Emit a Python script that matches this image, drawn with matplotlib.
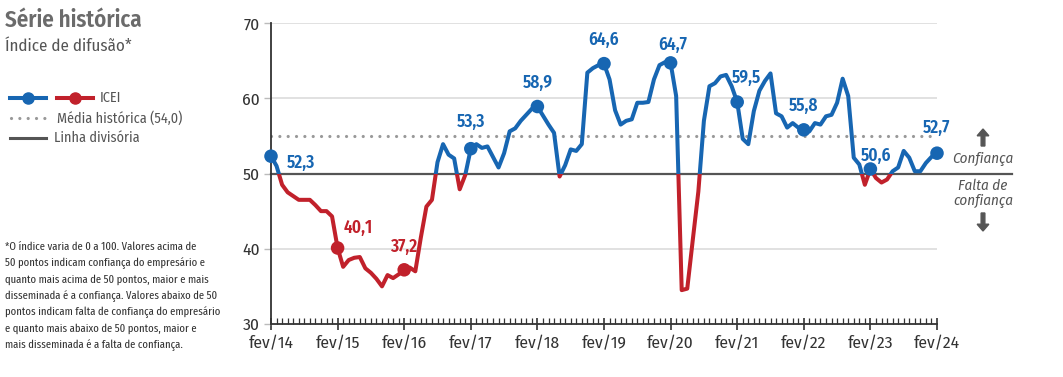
import numpy as np
import matplotlib
matplotlib.use("Agg")
import matplotlib.pyplot as plt
from matplotlib.patches import Rectangle, FancyArrow
from matplotlib.lines import Line2D
from matplotlib.ticker import MultipleLocator

plt.rcParams["font.family"] = ["Fira Sans Condensed", "Roboto Condensed",
                               "Liberation Sans Narrow", "DejaVu Sans"]

# --- Dados: ICEI mensal, fev/2014 a fev/2024 ---
icei = [
    52.3, 51.0, 48.5, 47.5, 47.0, 46.5, 46.5, 46.5, 45.8, 45.0, 45.0, 44.3,   # 2014
    40.1, 37.6, 38.5, 38.8, 38.9, 37.4, 36.8, 36.0, 35.0, 36.5, 36.1, 36.6,   # 2015
    37.2, 37.5, 37.0, 41.5, 45.6, 46.5, 51.5, 53.9, 52.5, 52.0, 47.9, 49.8,   # 2016
    53.3, 53.9, 53.4, 53.6, 52.2, 50.8, 52.7, 55.6, 56.0, 57.0, 57.8, 58.6,   # 2017
    58.9, 57.7, 56.5, 55.4, 49.6, 51.1, 53.2, 53.0, 53.9, 63.4, 64.0, 64.4,   # 2018
    64.6, 62.5, 58.4, 56.5, 57.0, 57.2, 59.4, 59.4, 59.5, 62.5, 64.4, 64.8,   # 2019
    64.7, 60.3, 34.5, 34.7, 41.2, 47.6, 57.0, 61.6, 62.0, 62.9, 63.1, 61.6,   # 2020
    59.5, 54.6, 53.9, 58.3, 61.0, 62.3, 63.3, 58.0, 57.6, 56.1, 56.7, 56.1,   # 2021
    55.8, 55.6, 56.7, 56.5, 57.6, 57.8, 59.4, 62.6, 60.3, 52.1, 51.2, 48.5,   # 2022
    50.6, 49.4, 48.8, 49.2, 50.3, 50.8, 53.0, 52.1, 50.3, 50.3, 51.4, 52.2,   # 2023
    52.7,                                                                     # 2024
]
x_labels = ["fev/14", "fev/15", "fev/16", "fev/17", "fev/18", "fev/19",
            "fev/20", "fev/21", "fev/22", "fev/23", "fev/24"]
media_historica = 55.0
linha_divisoria = 50.0

footnote = [
    "*O índice varia de 0 a 100. Valores acima de",
    "50 pontos indicam confiança do empresário e",
    "quanto mais acima de 50 pontos, maior e mais",
    "disseminada é a confiança. Valores abaixo de 50",
    "pontos indicam falta de confiança do empresário",
    "e quanto mais abaixo de 50 pontos, maior e",
    "mais disseminada é a falta de confiança.",
]

# deslocamento dos rótulos (px) em relação ao marcador de cada fevereiro
label_offsets = [(16, -7, "left"), (6, 20, "left"), (0, 23, "center"),
                 (0, 27, "center"), (0, 24, "center"), (0, 24, "center"),
                 (2, 18, "center"), (9, 24, "center"), (0, 24, "center"),
                 (6, 13, "center"), (0, 25, "center")]

BLUE = "#1766b2"
RED = "#c1212b"
DARK = "#555555"
GRID = "#dcdcdc"
W, H = 1063, 377


def fx(px):
    return px / W


def fy(py):
    return 1 - py / H


months = np.arange(len(icei))
values = np.array(icei)

fig = plt.figure(figsize=(W / 100, H / 100), dpi=100)
ax = fig.add_axes([fx(271), fy(324), fx(937) - fx(271), fy(23) - fy(324)])
ax.set_xlim(0, 120)
ax.set_ylim(30, 70)

# grades claras
for v in (40, 60, 70):
    ax.axhline(v, color=GRID, lw=1.2, zorder=0)
ax.axhline(media_historica, color="#999999", lw=2.3,
           linestyle=(0, (0.01, 2.6)), dash_capstyle="round", zorder=1)
ax.plot([0, 1.113], [linha_divisoria, linha_divisoria], transform=ax.get_yaxis_transform(),
        color=DARK, lw=1.6, clip_on=False, zorder=2)

# série: azul acima de 50, vermelho abaixo (recorte)
above = Rectangle((-5, linha_divisoria), 130, 100, transform=ax.transData)
below = Rectangle((-5, 0), 130, linha_divisoria, transform=ax.transData)
l1, = ax.plot(months, values, color=BLUE, lw=2.9, solid_joinstyle="round", zorder=3)
l1.set_clip_path(above)
l2, = ax.plot(months, values, color=RED, lw=2.9, solid_joinstyle="round", zorder=3)
l2.set_clip_path(below)

# marcadores de fevereiro
feb = months[::12]
feb_vals = values[::12]
feb_cols = [BLUE if v >= 50 else RED for v in feb_vals]
ax.scatter(feb, feb_vals, s=95, c=feb_cols, zorder=4, clip_on=False, linewidths=0)
for m, v, c, (dx, dy, ha) in zip(feb, feb_vals, feb_cols, label_offsets):
    ax.annotate(f"{v:.1f}".replace(".", ","), (m, v), xytext=(dx * 0.72, dy * 0.72),
                textcoords="offset points", ha=ha, va="center", color=c,
                fontsize=12.5, fontweight="semibold", zorder=5)

# eixos
for s in ("top", "right"):
    ax.spines[s].set_visible(False)
for s in ("left", "bottom"):
    ax.spines[s].set_color("#333333")
    ax.spines[s].set_linewidth(1.3)
ax.set_xticks(feb)
ax.set_xticklabels(x_labels)
ax.xaxis.set_minor_locator(MultipleLocator(1))
ax.set_yticks([30, 40, 50, 60, 70])
ax.tick_params(axis="x", which="major", direction="inout", length=8, width=1.2,
               color="#333333", labelsize=12.5, labelcolor="#333333", pad=4)
ax.tick_params(axis="x", which="minor", direction="in", length=4, width=0.9, color="#333333")
ax.tick_params(axis="y", direction="out", length=5, width=1, color="#bbbbbb",
               labelsize=12.5, labelcolor="#333333", pad=3)

# títulos
fig.text(fx(5), fy(20), "Série histórica", fontsize=16.5, fontweight="semibold",
         color="#6b6b6b", va="center")
fig.text(fx(5), fy(46), "Índice de difusão*", fontsize=12.2, color="#555555", va="center")

# legenda manual
leg_fs = 10.2
fig.add_artist(Line2D([fx(10), fx(46)], [fy(98), fy(98)], color=BLUE, lw=2.9))
fig.add_artist(Line2D([fx(28)], [fy(98)], color=BLUE, marker="o", markersize=8, lw=0))
fig.add_artist(Line2D([fx(57), fx(93)], [fy(98), fy(98)], color=RED, lw=2.9))
fig.add_artist(Line2D([fx(75)], [fy(98)], color=RED, marker="o", markersize=8, lw=0))
fig.text(fx(100), fy(98), "ICEI", fontsize=leg_fs, color=DARK, va="center")
fig.add_artist(Line2D([fx(11), fx(51)], [fy(118), fy(118)], color="#999999", lw=2.3,
                      linestyle=(0, (0.01, 2.6)), dash_capstyle="round"))
fig.text(fx(57), fy(118), "Média histórica (54,0)", fontsize=leg_fs, color=DARK, va="center")
fig.add_artist(Line2D([fx(10), fx(46)], [fy(138), fy(138)], color=DARK, lw=2.2))
fig.text(fx(54), fy(138), "Linha divisória", fontsize=leg_fs, color=DARK, va="center")

# nota de rodapé
for i, line in enumerate(footnote):
    fig.text(fx(5), fy(246.5 + i * 16.4), line, fontsize=8.3, color="#333333", va="center",
             family=["Fira Sans Extra Condensed", "Fira Sans Condensed", "DejaVu Sans"])

# indicação confiança / falta de confiança
for py, txt in ((159, "Confiança"), (186, "Falta de"), (201, "confiança")):
    fig.text(fx(983), fy(py), txt, fontsize=10.8, style="italic", color=DARK,
             ha="center", va="center")
for y0, y1 in ((146, 129), (213, 231)):
    fig.add_artist(FancyArrow(fx(983), fy(y0), 0, fy(y1) - fy(y0), width=0.0035,
                              head_width=0.011, head_length=0.018,
                              length_includes_head=True, color=DARK,
                              transform=fig.transFigure))

fig.savefig("out.png", dpi=100, facecolor="white")
